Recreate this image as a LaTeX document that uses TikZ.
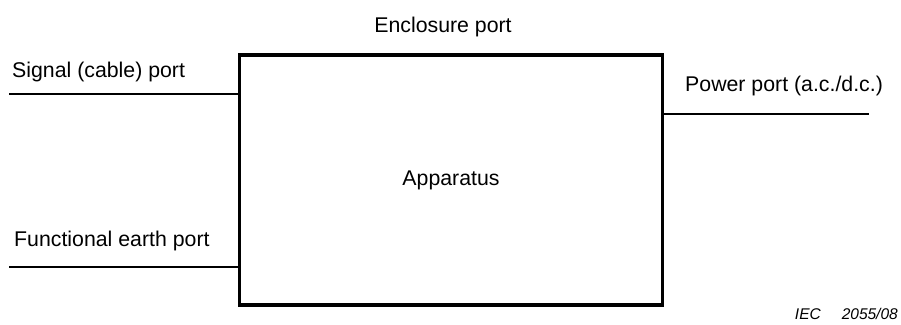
\documentclass[tikz,border=0pt]{standalone}
\usepackage{fontspec}
\setmainfont{Liberation Sans}
\usetikzlibrary{positioning}

\begin{document}
\begin{tikzpicture}[x=1pt,y=-1pt,
    every node/.style = {font=\fontsize{21.3}{25}\selectfont, inner sep=0pt},
    port/.style = {line width=1.3pt},
    box/.style = {draw, line width=3.2pt, outer sep=0pt,
      minimum width=423pt, minimum height=250pt}]
  \useasboundingbox (0,0) rectangle (901,324);
  \node[box] (app) at (451,180) {Apparatus};
  \node[anchor=base] (encl) at (443,32) {Enclosure port};
  \node[anchor=base west] (sig) at (12,77) {Signal (cable) port};
  \node[anchor=base west] (fe) at (14,246) {Functional earth port};
  \node[anchor=base west] (pwr) at (685,91) {Power port (a.c./d.c.)};
  \node[anchor=base east, font=\fontsize{15.5}{18}\selectfont\itshape] (iec) at (898,319) {IEC\hspace{21pt}2055/08};
  % port lines
  \coordinate (sigL) at (9,94);
  \coordinate (feL) at (9,267);
  \coordinate (pwrR) at (869,114);
  \draw[port] (sigL) -- (sigL -| app.west);
  \draw[port] (feL) -- (feL -| app.west);
  \draw[port] (app.east |- pwrR) -- (pwrR);
\end{tikzpicture}
\end{document}
